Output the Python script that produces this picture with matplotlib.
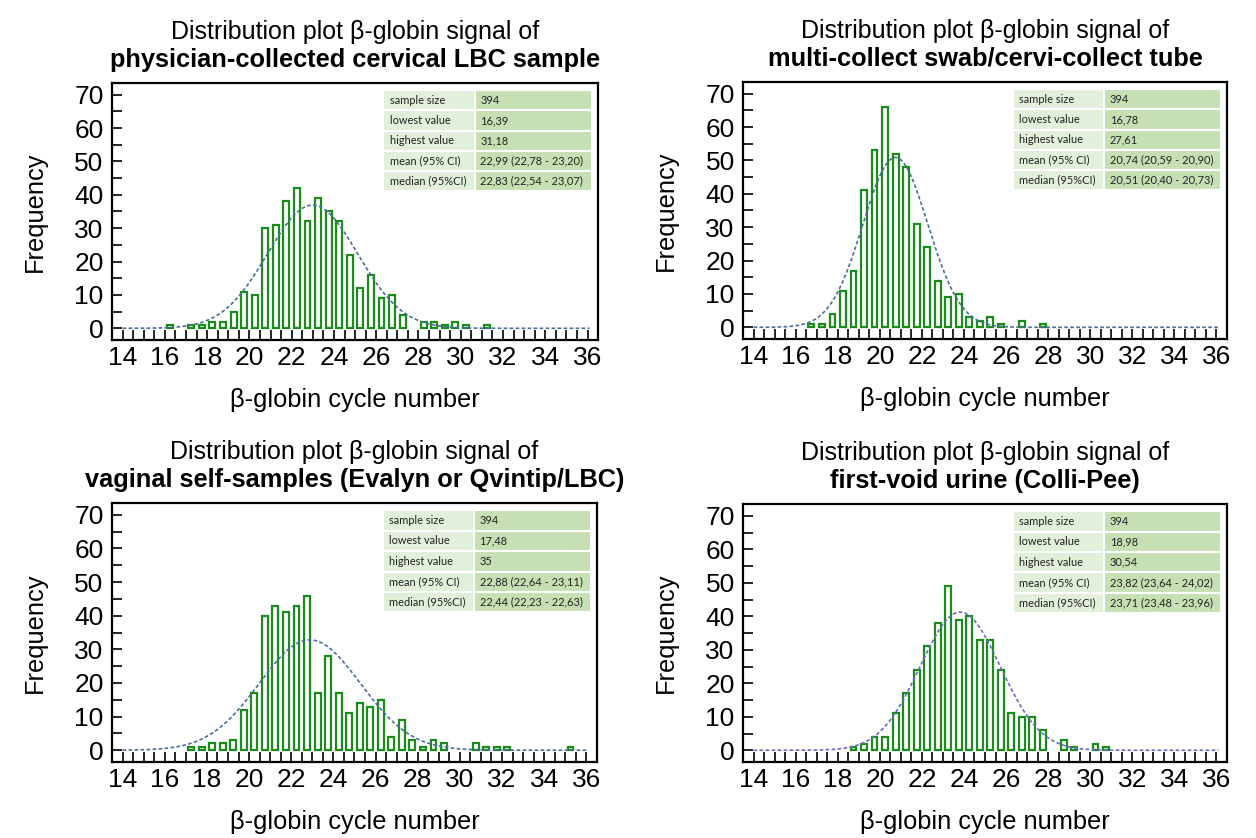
import numpy as np
import matplotlib
matplotlib.use("Agg")
import matplotlib.pyplot as plt
from matplotlib.patches import Rectangle

plt.rcParams['font.family'] = ['Liberation Sans', 'DejaVu Sans']

# data (bin width 0.5, centres) 
bins_lbc = [16.25, 17.25, 17.75, 18.25, 18.75, 19.25, 19.75, 20.25, 20.75, 21.25,
            21.75, 22.25, 22.75, 23.25, 23.75, 24.25, 24.75, 25.25, 25.75, 26.25,
            26.75, 27.25, 28.25, 28.75, 29.25, 29.75, 30.25, 31.25]
counts_lbc = [1, 1, 1, 2, 2, 5, 11, 10, 30, 31, 38, 42, 32, 39, 35, 32, 22, 12, 16, 9,
              10, 4, 2, 2, 1, 2, 1, 1]

bins_swab = [16.75, 17.25, 17.75, 18.25, 18.75, 19.25, 19.75, 20.25, 20.75, 21.25,
             21.75, 22.25, 22.75, 23.25, 23.75, 24.25, 24.75, 25.25, 25.75, 26.75, 27.75]
counts_swab = [1, 1, 4, 11, 17, 41, 53, 66, 52, 48, 31, 24, 14, 9, 10, 3, 2, 3, 1, 2, 1]

bins_vag = [17.25, 17.75, 18.25, 18.75, 19.25, 19.75, 20.25, 20.75, 21.25, 21.75,
            22.25, 22.75, 23.25, 23.75, 24.25, 24.75, 25.25, 25.75, 26.25, 26.75,
            27.25, 27.75, 28.25, 28.75, 29.25, 30.75, 31.25, 31.75, 32.25, 35.25]
counts_vag = [1, 1, 2, 2, 3, 12, 17, 40, 43, 41, 43, 46, 17, 28, 17, 11, 14, 13, 15, 4,
              9, 3, 1, 3, 2, 2, 1, 1, 1, 1]

bins_urine = [18.75, 19.25, 19.75, 20.25, 20.75, 21.25, 21.75, 22.25, 22.75, 23.25,
              23.75, 24.25, 24.75, 25.25, 25.75, 26.25, 26.75, 27.25, 27.75, 28.75,
              29.25, 30.25, 30.75]
counts_urine = [1, 2, 4, 4, 11, 17, 24, 31, 38, 49, 39, 40, 33, 33, 24, 11, 10, 10, 6,
                3, 1, 2, 1]

titles = ["physician-collected cervical LBC sample",
          "multi-collect swab/cervi-collect tube",
          "vaginal self-samples (Evalyn or Qvintip/LBC)",
          "first-void urine (Colli-Pee)"]
means = [22.99, 20.74, 22.88, 23.82]

row_labels = ["sample size", "lowest value", "highest value", "mean (95% CI)", "median (95%CI)"]
table_lbc = ["394", "16,39", "31,18", "22,99 (22,78 - 23,20)", "22,83 (22,54 - 23,07)"]
table_swab = ["394", "16,78", "27,61", "20,74 (20,59 - 20,90)", "20,51 (20,40 - 20,73)"]
table_vag = ["394", "17,48", "35", "22,88 (22,64 - 23,11)", "22,44 (22,23 - 22,63)"]
table_urine = ["394", "18,98", "30,54", "23,82 (23,64 - 24,02)", "23,71 (23,48 - 23,96)"]

panels = [
    (bins_lbc, counts_lbc, table_lbc, '#4a6e9e'),
    (bins_swab, counts_swab, table_swab, '#4a6e9e'),
    (bins_vag, counts_vag, table_vag, '#4a6e9e'),
    (bins_urine, counts_urine, table_urine, '#6b6bc8'),
]

fig = plt.figure(figsize=(12.56, 8.38), dpi=100)
fig.patch.set_facecolor('white')

# axes boxes in figure fractions
boxes = [(0.0892, 0.5943, 0.387, 0.3067),
         (0.5916, 0.5955, 0.3853, 0.3067),
         (0.0892, 0.0907, 0.386, 0.3090),
         (0.5916, 0.0907, 0.3853, 0.3078)]

binw = 0.5
for i, (bins, counts, tab, ccol) in enumerate(panels):
    ax = fig.add_axes(boxes[i])
    bins = np.array(bins)
    counts = np.array(counts)

    ax.bar(bins, counts, width=0.28, facecolor='white', edgecolor='#1b8c1b',
           linewidth=1.6, zorder=2)

    # fitted normal curve
    n = counts.sum()
    mu = means[i]
    sd = np.sqrt(np.sum(counts * (bins - mu) ** 2) / (n - 1))
    xs = np.linspace(14, 36.1, 400)
    ys = n * binw * np.exp(-0.5 * ((xs - mu) / sd) ** 2) / (sd * np.sqrt(2 * np.pi))
    ax.plot(xs, ys, color=ccol, lw=1.2, ls=(0, (2.2, 1.4)), zorder=3)

    ax.set_xlim(13.5, 36.5)
    ax.set_ylim(-3.5, 73.5)
    ax.set_xticks(np.arange(14, 37, 2))
    ax.set_xticks(np.arange(13.5, 36.6, 0.5), minor=True)
    ax.set_yticks(np.arange(0, 71, 10))
    ax.set_yticks(np.arange(0, 71, 5), minor=True)
    ax.tick_params(axis='both', which='both', direction='in', length=7, width=1.2,
                   top=False, right=False, color='black')
    ax.tick_params(axis='x', which='major', labelsize=19, pad=4)
    ax.tick_params(axis='y', which='major', labelsize=19, pad=6)
    for s in ax.spines.values():
        s.set_linewidth(1.6)

    ax.set_xlabel("β-globin cycle number", fontsize=18.3, labelpad=13)
    ax.set_ylabel("Frequency", fontsize=18.3, labelpad=20)

    ax.annotate("Distribution plot β-globin signal of", xy=(0.5, 1.0),
                xycoords='axes fraction', xytext=(0, 31.5), textcoords='offset points',
                ha='center', va='baseline', fontsize=18)
    ax.annotate(titles[i], xy=(0.5, 1.0), xycoords='axes fraction',
                xytext=(0, 11.5), textcoords='offset points',
                ha='center', va='baseline', fontsize=18.3, fontweight='bold')

    # statistics table in the upper right
    left, split, right = 0.558, 0.746, 0.988
    top, bottom = 0.972, 0.578
    rh = (top - bottom) / len(row_labels)
    for r, (lab, val) in enumerate(zip(row_labels, tab)):
        y0 = top - (r + 1) * rh
        ax.add_patch(Rectangle((left, y0), split - left, rh, transform=ax.transAxes,
                               facecolor='#e2efda', edgecolor='white', lw=1.5, zorder=4))
        ax.add_patch(Rectangle((split, y0), right - split, rh, transform=ax.transAxes,
                               facecolor='#c6e0b4', edgecolor='white', lw=1.5, zorder=4))
        ax.text(left + 0.013, y0 + rh / 2, lab, transform=ax.transAxes, fontsize=7.9,
                family=['Lato', 'DejaVu Sans'], color='#222222', va='center', zorder=5)
        ax.text(split + 0.012, y0 + rh / 2, val, transform=ax.transAxes, fontsize=7.9,
                family=['Lato', 'DejaVu Sans'], color='#222222', va='center', zorder=5)

fig.savefig("out.png", dpi=100, facecolor='white')
